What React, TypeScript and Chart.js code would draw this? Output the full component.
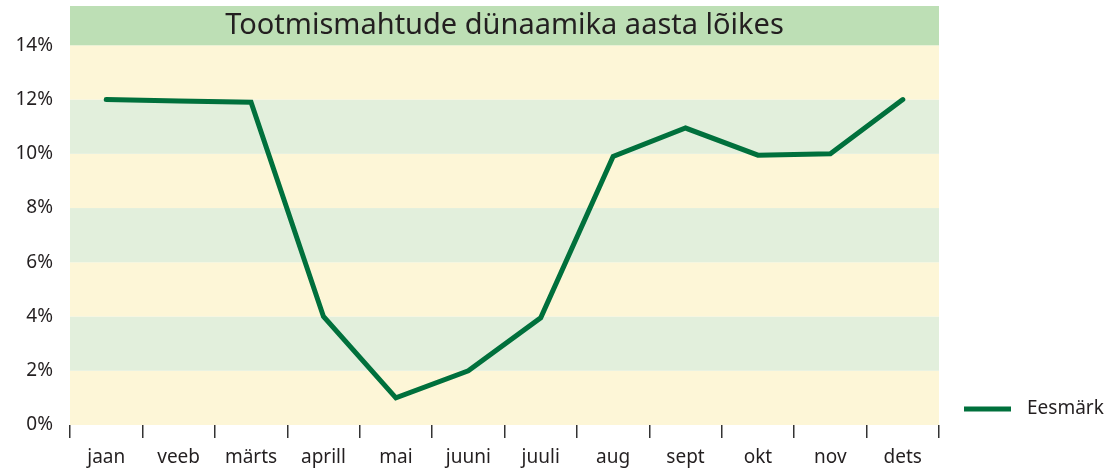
import React, { useEffect, useRef } from "react";
import { Chart, registerables } from "chart.js";

Chart.register(...registerables);

const TITLE = "Tootmismahtude dünaamika aasta lõikes";
const SERIES_LABEL = "Eesmärk";
const categories = ["jaan", "veeb", "märts", "aprill", "mai", "juuni", "juuli", "aug", "sept", "okt", "nov", "dets"];
const values = [12, 11.95, 11.9, 4, 1, 2, 3.95, 9.9, 10.95, 9.95, 10, 12];
const yTicks = [0, 2, 4, 6, 8, 10, 12, 14];
const Y_MAX = 15.45;

const FONT = "'Noto Sans', Lato, sans-serif";
const LINE_COLOR = "#00703c";
const YELLOW = "#fdf6d7";
const LIGHT_GREEN = "#e2efdc";
const TITLE_GREEN = "#bddfb5";
const TEXT = "#231f20";

const bandsPlugin = {
  id: "bands",
  beforeDatasetsDraw(chart: any) {
    const { ctx, chartArea } = chart;
    const y = chart.scales.y;
    ctx.save();
    for (let i = 0; i < yTicks.length - 1; i++) {
      const top = y.getPixelForValue(yTicks[i + 1]);
      const bottom = y.getPixelForValue(yTicks[i]);
      ctx.fillStyle = i % 2 === 0 ? YELLOW : LIGHT_GREEN;
      ctx.fillRect(chartArea.left, top, chartArea.right - chartArea.left, bottom - top);
    }
    const t = y.getPixelForValue(Y_MAX);
    const b = y.getPixelForValue(yTicks[yTicks.length - 1]);
    ctx.fillStyle = TITLE_GREEN;
    ctx.fillRect(chartArea.left, t, chartArea.right - chartArea.left, b - t);
    ctx.fillStyle = TEXT;
    ctx.font = `29px ${FONT}`;
    ctx.textAlign = "center";
    ctx.textBaseline = "middle";
    ctx.fillText(TITLE, (chartArea.left + chartArea.right) / 2, (t + b) / 2);
    ctx.restore();
  },
  afterDraw(chart: any) {
    const { ctx, chartArea } = chart;
    const ds = chart.data.datasets[0];
    const yc = chartArea.bottom - 16;
    const x0 = chartArea.right + 25;
    ctx.save();
    ctx.strokeStyle = ds.borderColor;
    ctx.lineWidth = 5;
    ctx.beginPath();
    ctx.moveTo(x0, yc);
    ctx.lineTo(x0 + 47, yc);
    ctx.stroke();
    ctx.fillStyle = TEXT;
    ctx.font = `19px ${FONT}`;
    ctx.textAlign = "left";
    ctx.textBaseline = "middle";
    ctx.fillText(ds.label, x0 + 63, yc);
    ctx.restore();
  },
};

export default function App() {
  const ref = useRef<HTMLCanvasElement>(null);
  useEffect(() => {
    if (!ref.current) return;
    const chart = new Chart(ref.current, {
      type: "line",
      data: {
        labels: categories,
        datasets: [
          {
            label: SERIES_LABEL,
            data: values,
            borderColor: LINE_COLOR,
            backgroundColor: LINE_COLOR,
            borderWidth: 5,
            borderCapStyle: "round",
            borderJoinStyle: "miter",
            pointRadius: 0,
            tension: 0,
            fill: false,
          },
        ],
      },
      plugins: [bandsPlugin],
      options: {
        responsive: false,
        animation: false,
        layout: { padding: { top: 6, right: 167, bottom: 0, left: 0 } },
        plugins: {
          legend: { display: false },
          title: { display: false },
          tooltip: { enabled: false },
        },
        scales: {
          x: {
            offset: true,
            border: { display: false },
            grid: {
              offset: true,
              drawOnChartArea: false,
              drawTicks: true,
              tickLength: 13,
              color: "#333333",
              lineWidth: 1.5,
            },
            ticks: {
              color: TEXT,
              font: { family: FONT, size: 19 },
              padding: 8,
              maxRotation: 0,
            },
            afterFit(scale: any) {
              scale.height = 45;
              scale.paddingLeft = 0;
              scale.paddingRight = 0;
            },
          },
          y: {
            min: 0,
            max: Y_MAX,
            border: { display: false },
            grid: { display: false, drawTicks: false },
            afterBuildTicks(scale: any) {
              scale.ticks = yTicks.map((v) => ({ value: v }));
            },
            ticks: {
              color: TEXT,
              font: { family: FONT, size: 19 },
              padding: 17,
              callback: (v: any) => `${v}%`,
            },
            afterFit(scale: any) {
              scale.width = 70;
              scale.paddingTop = 0;
              scale.paddingBottom = 0;
            },
          },
        },
      },
    });
    return () => chart.destroy();
  }, []);
  return (
    <div style={{ position: "absolute", left: 0, top: 0, width: 1106, height: 470 }}>
      <canvas ref={ref} width={1106} height={470} />
    </div>
  );
}
